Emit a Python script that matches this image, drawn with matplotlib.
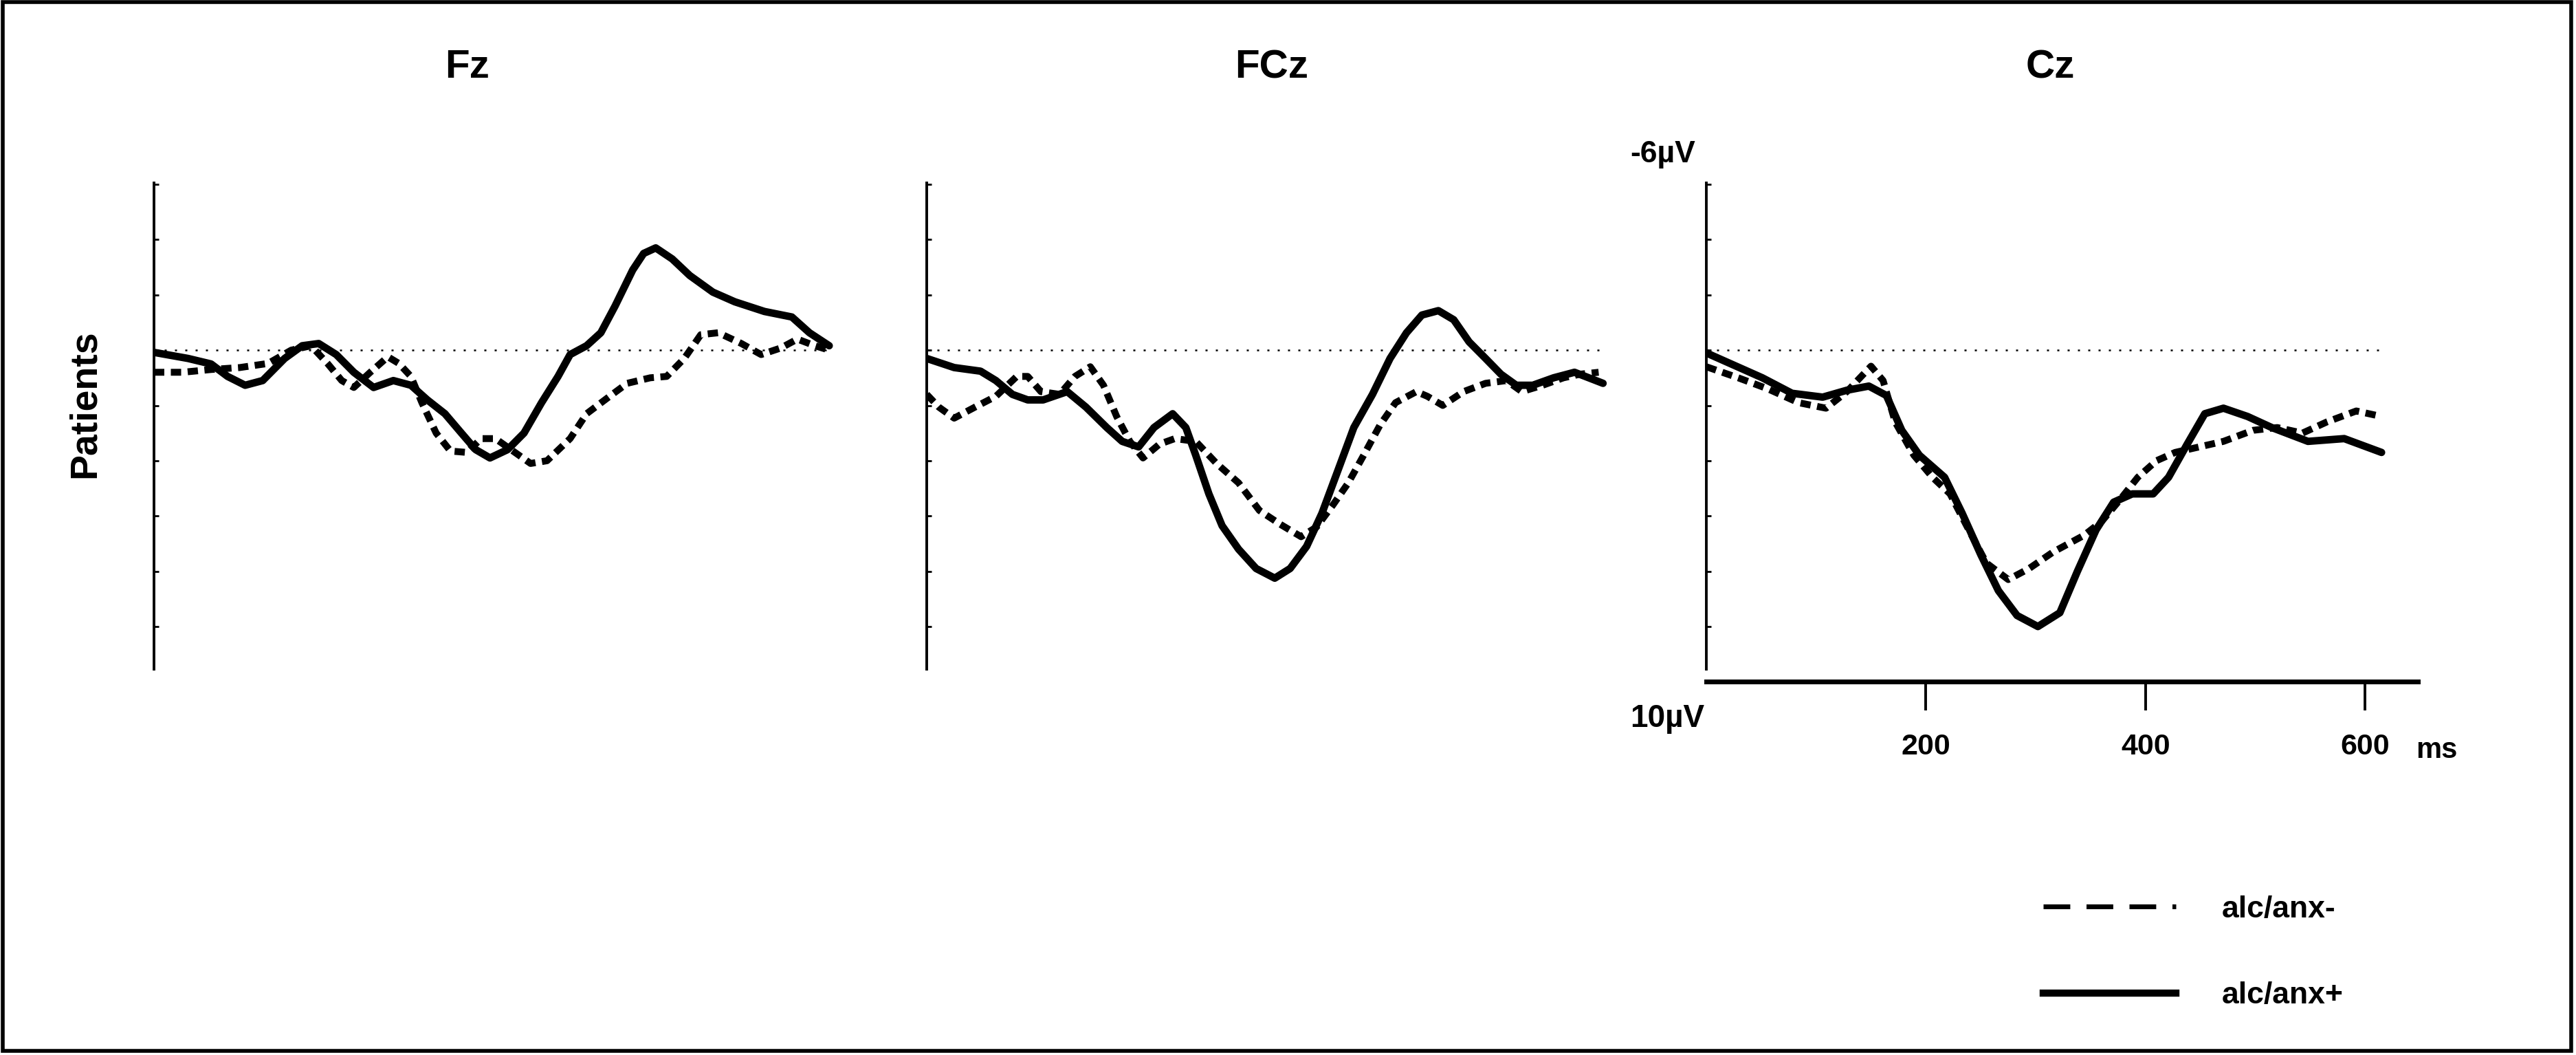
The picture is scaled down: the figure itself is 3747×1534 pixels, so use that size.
import matplotlib
matplotlib.use("Agg")
import matplotlib.pyplot as plt
from matplotlib.lines import Line2D
from matplotlib.patches import Rectangle

plt.rcParams['font.family'] = ['Liberation Sans', 'DejaVu Sans']

# ---------------- data (time in ms, amplitude in microvolts, negative up) ----------------
titles = ["Fz", "FCz", "Cz"]
series_labels = ["alc/anx-", "alc/anx+"]

fz_neg_t = [0, 26, 52, 78, 104, 125, 143, 158, 171, 182, 197, 213, 223, 234, 244, 257, 270, 285, 298, 311,
            327, 343, 358, 379, 394, 415, 431, 452, 467, 483, 498, 514, 535, 553, 571, 586, 602, 615]
fz_neg_v = [0.8, 0.8, 0.7, 0.63, 0.48, 0.0, -0.16, 0.48, 1.1, 1.35, 0.8, 0.24, 0.48, 0.95, 1.9, 3.0, 3.65, 3.7,
            3.2, 3.2, 3.65, 4.1, 4.0, 3.2, 2.3, 1.67, 1.2, 1.0, 0.95, 0.3, -0.56, -0.63, -0.24, 0.16, -0.08,
            -0.4, -0.16, 0.0]
fz_pos_t = [0, 31, 52, 67, 83, 99, 119, 135, 150, 166, 182, 200, 218, 234, 249, 265, 280, 293, 306, 322, 337,
            353, 368, 379, 394, 407, 420, 436, 446, 457, 472, 488, 509, 529, 556, 581, 597, 615]
fz_pos_v = [0.08, 0.3, 0.5, 0.95, 1.27, 1.1, 0.3, -0.16, -0.24, 0.16, 0.8, 1.35, 1.1, 1.27, 1.8, 2.3, 3.0, 3.6,
            3.9, 3.6, 3.0, 1.9, 0.95, 0.16, -0.16, -0.63, -1.6, -2.9, -3.5, -3.7, -3.3, -2.7, -2.1, -1.75,
            -1.4, -1.2, -0.63, -0.16]

fcz_neg_t = [0, 11, 25, 44, 63, 82, 92, 104, 121, 135, 149, 161, 173, 185, 197, 212, 226, 245, 264, 284, 303,
             322, 341, 355, 370, 384, 398, 413, 427, 446, 456, 470, 489, 509, 528, 542, 561, 580, 595, 612]
fcz_neg_v = [1.6, 2.06, 2.46, 2.06, 1.67, 0.95, 0.95, 1.5, 1.6, 0.95, 0.6, 1.27, 2.4, 3.3, 3.9, 3.4, 3.2, 3.3,
             4.1, 4.8, 5.8, 6.3, 6.75, 6.4, 5.6, 4.8, 3.8, 2.7, 1.9, 1.5, 1.67, 2.0, 1.5, 1.2, 1.1, 1.5, 1.27,
             1.0, 0.87, 0.8]
fcz_pos_t = [0, 25, 49, 63, 78, 92, 106, 128, 145, 164, 178, 193, 207, 224, 236, 245, 257, 269, 284, 300, 317,
             331, 346, 360, 375, 389, 406, 422, 437, 451, 466, 480, 494, 509, 523, 537, 552, 571, 590, 616]
fcz_pos_v = [0.3, 0.63, 0.76, 1.1, 1.6, 1.8, 1.8, 1.5, 2.06, 2.8, 3.3, 3.5, 2.8, 2.3, 2.8, 3.8, 5.2, 6.35, 7.2,
             7.9, 8.25, 7.9, 7.1, 5.9, 4.3, 2.8, 1.6, 0.3, -0.63, -1.27, -1.43, -1.1, -0.3, 0.3, 0.87, 1.27,
             1.27, 1.0, 0.8, 1.2]

cz_neg_t = [0, 29, 56, 84, 109, 128, 150, 161, 172, 189, 206, 222, 239, 255, 275, 294, 316, 344, 360, 377, 393,
            410, 427, 449, 471, 498, 520, 543, 565, 592, 615]
cz_neg_v = [0.6, 1.0, 1.4, 1.9, 2.1, 1.5, 0.58, 1.1, 2.6, 3.8, 4.6, 5.2, 6.5, 7.7, 8.3, 7.9, 7.3, 6.7, 6.2, 5.4,
            4.6, 4.0, 3.7, 3.5, 3.3, 2.9, 2.8, 3.0, 2.6, 2.2, 2.4]
cz_pos_t = [0, 51, 78, 106, 128, 148, 164, 178, 194, 217, 233, 250, 266, 283, 302, 322, 338, 355, 371, 388, 407,
            421, 438, 454, 471, 493, 515, 548, 581, 615]
cz_pos_v = [0.1, 1.0, 1.56, 1.7, 1.45, 1.3, 1.64, 2.9, 3.8, 4.6, 5.9, 7.4, 8.7, 9.6, 10.0, 9.5, 8.0, 6.5, 5.5,
            5.2, 5.2, 4.6, 3.4, 2.3, 2.1, 2.4, 2.8, 3.3, 3.2, 3.7]

y_ticks = [-6, -4, -2, 0, 2, 4, 6, 8, 10]
x_ticks = [200, 400, 600]
x_tick_labels = ["200", "400", "600"]
baseline_end = 615

# ---------------- figure ----------------
W, H = 3748, 1534
fig = plt.figure(figsize=(W / 100, H / 100), dpi=100)

def px_rect(left, top, width, bottom):
    return [left / W, 1 - bottom / H, width / W, (bottom - top) / H]

x_max = 648
y_top, y_bot = -6.05, 12.0
ax_top_px = 266
ax_bot_px = 991.4
ax_w_px = x_max * 1.597
lefts = [224, 1348, 2482]

panels = [
    (fz_neg_t, fz_neg_v, fz_pos_t, fz_pos_v),
    (fcz_neg_t, fcz_neg_v, fcz_pos_t, fcz_pos_v),
    (cz_neg_t, cz_neg_v, cz_pos_t, cz_pos_v),
]

dash_style = (0, (1.5, 0.95))
for i, (nt, nv, pt, pv) in enumerate(panels):
    ax = fig.add_axes(px_rect(lefts[i], ax_top_px, ax_w_px, ax_bot_px))
    ax.set_xlim(0, x_max)
    ax.set_ylim(y_bot, y_top)
    ax.patch.set_alpha(0)
    for s in ["top", "right"]:
        ax.spines[s].set_visible(False)
    ax.spines["left"].set_linewidth(2.8)
    ax.spines["left"].set_bounds(y_top, 11.54)
    ax.axhline(0, xmin=0, xmax=baseline_end / x_max, color="black", lw=1.8,
               linestyle=(0, (1.2, 4.8)), zorder=1)
    ax.plot(nt, nv, color="black", lw=7.2, linestyle=dash_style, dash_capstyle="butt", zorder=3)
    ax.plot(pt, pv, color="black", lw=7.8, solid_joinstyle="round", solid_capstyle="round", zorder=4)
    ax.set_yticks(y_ticks)
    ax.tick_params(axis="y", direction="in", length=5, width=2.0, labelleft=False)
    if i < 2:
        ax.spines["bottom"].set_visible(False)
        ax.set_xticks([])
    else:
        ax.spines["bottom"].set_linewidth(5.0)
        ax.set_xticks(x_ticks)
        ax.set_xticklabels(x_tick_labels, fontweight="bold")
        ax.tick_params(axis="x", direction="out", length=30, width=2.8, pad=24, labelsize=31)

# titles
title_x = [680, 1850, 2982]
for tx, t in zip(title_x, titles):
    fig.text(tx / W, 1 - 113 / H, t, ha="center", va="baseline", fontsize=42, fontweight="bold")

fig.text(124 / W, 1 - 587 / H, "Patients", rotation=90, ha="center", va="center", fontsize=40,
         fontweight="bold")
fig.text(2419 / W, 1 - 236 / H, "-6µV", ha="center", va="baseline", fontsize=32, fontweight="bold")
fig.text(2425 / W, 1 - 1057 / H, "10µV", ha="center", va="baseline", fontsize=33, fontweight="bold")
fig.text(3544 / W, 1 - 1102 / H, "ms", ha="center", va="baseline", fontsize=30, fontweight="bold")

# legend
handles = [
    Line2D([], [], color="black", lw=5.0, linestyle=(0, (5.6, 3.4))),
    Line2D([], [], color="black", lw=7.5),
]
fig.legend(handles, series_labels, loc="upper left", bbox_to_anchor=(2972 / W, 1 - 1302 / H),
           frameon=False, borderpad=0, borderaxespad=0, handlelength=4.35, handletextpad=1.5,
           labelspacing=1.9, prop={"size": 32, "weight": "bold"})

# outer frame
fig.patches.append(Rectangle((4 / W, 1 - 1528 / H), (3740 - 4) / W, (1528 - 3) / H,
                             transform=fig.transFigure, fill=False, edgecolor="black", lw=4.0))

fig.savefig("out.png", dpi=100)
